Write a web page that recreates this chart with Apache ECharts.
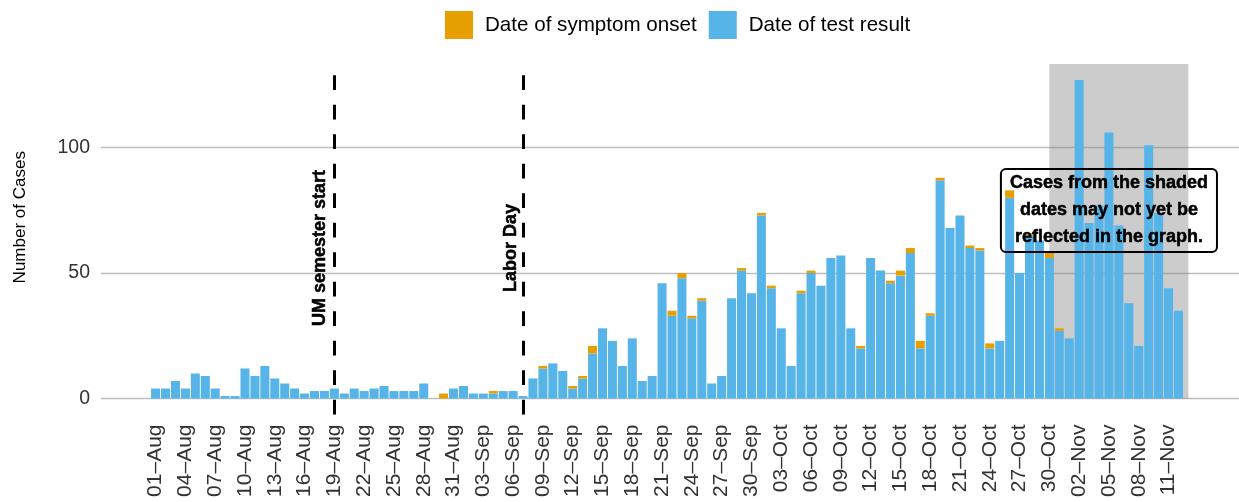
<!DOCTYPE html>
<html>
<head>
<meta charset="utf-8">
<script src="https://cdn.jsdelivr.net/npm/echarts@6/dist/echarts.min.js"></script>
<style>
  html, body { margin: 0; padding: 0; background: #fff; }
  #chart { width: 1239px; height: 502px; }
</style>
</head>
<body>
<div id="chart"></div>
<script>
// daily cases, 01-Aug .. 12-Nov (2020)
const testResult = [
  4, 4, 7, 4, 10, 9, 4, 1, 1, 12, 9, 13, 8, 6, 4, 2, 3, 3, 4, 2, 4, 3, 4, 5, 3, 3, 3, 6, 0, 0, 4,
  5, 2, 2, 2, 3, 3, 1, 8, 12, 14, 11, 4, 8, 18, 28, 23, 13, 24, 7, 9, 46, 33, 48, 32, 39, 6, 9, 40, 51, 42,
  73, 44, 28, 13, 42, 50, 45, 56, 57, 28, 20, 56, 51, 46, 49, 58, 20, 33, 87, 68, 73, 60, 59, 20, 23, 80, 50, 65, 63, 56, 27,
  24, 127, 70, 77, 106, 69, 38, 21, 101, 74, 44, 35
]
const symptomOnset = [
  0, 0, 0, 0, 0, 0, 0, 0, 0, 0, 0, 0, 0, 0, 0, 0, 0, 0, 0, 0, 0, 0, 0, 0, 0, 0, 0, 0, 0, 2, 0,
  0, 0, 0, 1, 0, 0, 0, 0, 1, 0, 0, 1, 1, 3, 0, 0, 0, 0, 0, 0, 0, 2, 2, 1, 1, 0, 0, 0, 1, 0,
  1, 1, 0, 0, 1, 1, 0, 0, 0, 0, 1, 0, 0, 1, 2, 2, 3, 1, 1, 0, 0, 1, 1, 2, 0, 3, 0, 1, 0, 2, 1,
  0, 0, 0, 0, 0, 0, 0, 0, 0, 0, 0, 0
]
const tickLabels = [
  '01–Aug', '04–Aug', '07–Aug', '10–Aug', '13–Aug', '16–Aug', '19–Aug', '22–Aug', '25–Aug', '28–Aug', '31–Aug',
  '03–Sep', '06–Sep', '09–Sep', '12–Sep', '15–Sep', '18–Sep', '21–Sep', '24–Sep', '27–Sep', '30–Sep',
  '03–Oct', '06–Oct', '09–Oct', '12–Oct', '15–Oct', '18–Oct', '21–Oct', '24–Oct', '27–Oct', '30–Oct',
  '02–Nov', '05–Nov', '08–Nov', '11–Nov'
]
const eventLines = [
  { date: '19–Aug', text: 'UM semester start', dx: -14 },
  { date: '07–Sep', text: 'Labor Day', dx: -12 },
]
const shadedFrom = '30–Oct'
const shadedTo = '13–Nov'
const note = 'Cases from the shaded\ndates may not yet be\nreflected in the graph.'

const Y_MIN = -6.35
const Y_MAX = 133.35
const FONT = '"Liberation Sans", Arial, Helvetica, sans-serif'

// date axis with a few empty days either side, like the original panel
const months = ['Jan', 'Feb', 'Mar', 'Apr', 'May', 'Jun', 'Jul', 'Aug', 'Sep', 'Oct', 'Nov', 'Dec']
const categories = []
for (let i = 0; i < 115; i++) {
  const d = new Date(2020, 6, 27 + i)
  categories.push(String(d.getDate()).padStart(2, '0') + '–' + months[d.getMonth()])
}
const firstIdx = categories.indexOf('01–Aug')
const pad = arr => categories.map((c, i) => {
  const k = i - firstIdx
  return k >= 0 && k < arr.length ? arr[k] : null
})

const boldText = {
  fontFamily: FONT, fontSize: 18, fontWeight: 'bold', color: '#000',
  textBorderColor: '#000', textBorderWidth: 0.5,
}

const option = {
  animation: false,
  backgroundColor: '#fff',
  textStyle: { fontFamily: FONT },
  legend: {
    data: ['Date of symptom onset', 'Date of test result'],
    left: 440, top: 6,
    icon: 'rect', itemWidth: 28, itemHeight: 28, itemGap: 12,
    textStyle: { fontFamily: FONT, fontSize: 20.6, color: '#000', padding: [0, 0, 0, 7] },
  },
  // panel runs a little past the right edge of the canvas
  grid: { left: 101, width: 1142, top: 64, bottom: 87.5, outerBoundsMode: 'none' },
  xAxis: {
    type: 'category',
    data: categories,
    axisLine: { show: false },
    axisTick: { show: false },
    splitLine: { show: false },
    axisLabel: {
      interval: (i, v) => tickLabels.includes(v),
      rotate: 90, margin: 10,
      fontFamily: FONT, fontSize: 21, color: '#333',
    },
  },
  yAxis: {
    type: 'value',
    min: Y_MIN, max: Y_MAX,
    splitNumber: 3, minInterval: 50, maxInterval: 50,
    name: 'Number of Cases',
    nameLocation: 'middle', nameGap: 72,
    nameTextStyle: { fontFamily: FONT, fontSize: 17, color: '#000', padding: [0, 0, 0, 44] },
    axisLine: { show: false },
    axisTick: { show: false },
    axisLabel: { showMinLabel: false, showMaxLabel: false, fontFamily: FONT, fontSize: 19.5, color: '#333', margin: 11 },
    splitLine: { showMinLine: false, showMaxLine: false, lineStyle: { color: '#bebebe', width: 1.4 } },
  },
  series: [
    {
      name: 'Date of test result', type: 'bar', stack: 'cases',
      data: pad(testResult), barCategoryGap: '9%', z: 2,
      itemStyle: { color: '#56B4E9' },
    },
    {
      name: 'Date of symptom onset', type: 'bar', stack: 'cases',
      data: pad(symptomOnset), z: 2,
      itemStyle: { color: '#E69F00' },
    },
    {
      // shaded "not yet complete" window
      type: 'line', data: [], z: 1, silent: true,
      markArea: {
        silent: true,
        itemStyle: { color: 'rgba(128,128,128,0.4)' },
        data: [[{ xAxis: shadedFrom, yAxis: 0 }, { xAxis: shadedTo, yAxis: Y_MAX }]],
      },
    },
    {
      type: 'line', data: [], z: 3, silent: true,
      markLine: {
        silent: true, symbol: 'none',
        label: { show: false },
        lineStyle: { color: '#000', width: 3, type: [14.7, 14.8], opacity: 1 },
        data: eventLines.map(e => ({ xAxis: e.date })),
      },
      markPoint: {
        silent: true,
        symbol: 'rect', symbolSize: 1,
        itemStyle: { color: 'rgba(0,0,0,0)' },
        data: [
          // label offset is applied in the rotated frame, so x shift goes in the 2nd slot
          ...eventLines.map(e => ({
            coord: [e.date, 60],
            label: { show: true, position: 'inside', formatter: e.text, rotate: 90, offset: [0, e.dx], ...boldText },
          })),
          {
            coord: ['05–Nov', 75],
            label: {
              show: true, position: 'inside', formatter: note, ...boldText,
              align: 'center', lineHeight: 27, padding: [1, 9],
              borderColor: '#000', borderWidth: 2, borderRadius: 5,
            },
          },
        ],
      },
    },
  ],
}

const chart = echarts.init(document.getElementById('chart'))
chart.setOption(option)
window.addEventListener('resize', () => chart.resize())
</script>
</body>
</html>
